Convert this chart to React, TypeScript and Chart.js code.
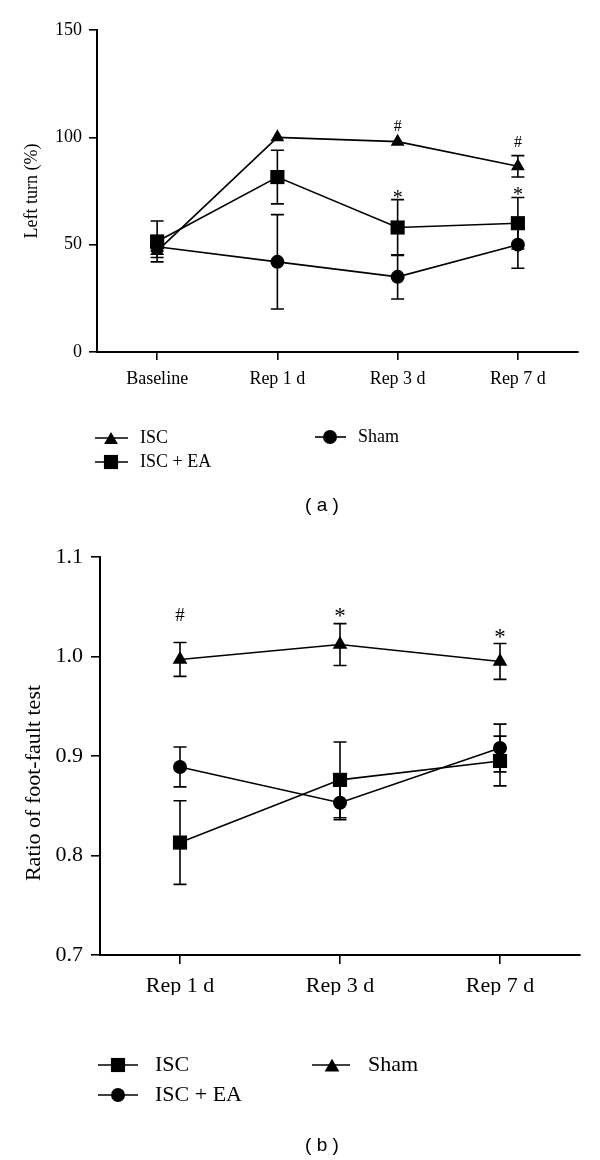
import React, { useEffect, useRef } from 'react';
import { Chart, registerables } from 'chart.js';

Chart.register(...registerables);

const SERIF = '"Liberation Serif", "Times New Roman", serif';
const SANS = '"Liberation Sans", Arial, sans-serif';

// ---------- Panel (a) data ----------
const catsA = ['Baseline', 'Rep 1 d', 'Rep 3 d', 'Rep 7 d'];
const iscA = [47, 100, 98, 86.5];
const iscErrA = [3, 0, 0, 5];
const iscEaA = [51.5, 81.5, 58, 60];
const iscEaErrA = [9.5, 12.5, 13, 12];
const shamA = [49, 42, 35, 50];
const shamErrA = [2, 22, 10.3, 11];
const yTicksA = [0, 50, 100, 150];
const marksA = [
  { index: 2, text: '#', value: 105.5 },
  { index: 3, text: '#', value: 98 },
  { index: 2, text: '*', value: 73.5 },
  { index: 3, text: '*', value: 75 },
];

// ---------- Panel (b) data ----------
const catsB = ['Rep 1 d', 'Rep 3 d', 'Rep 7 d'];
const iscB = [0.813, 0.876, 0.895];
const iscErrB = [0.042, 0.038, 0.025];
const iscEaB = [0.889, 0.853, 0.908];
const iscEaErrB = [0.02, 0.017, 0.024];
const shamB = [0.997, 1.012, 0.995];
const shamErrB = [0.017, 0.021, 0.018];
const yTicksB = [0.7, 0.8, 0.9, 1.0, 1.1];
const marksB = [
  { index: 0, text: '#', value: 1.042 },
  { index: 1, text: '*', value: 1.045 },
  { index: 2, text: '*', value: 1.024 },
];

function drawMarker(ctx: CanvasRenderingContext2D, style: string, x: number, y: number, r: number) {
  ctx.beginPath();
  if (style === 'circle') {
    ctx.arc(x, y, r, 0, Math.PI * 2);
  } else if (style === 'rect') {
    const s = r * Math.SQRT1_2;
    ctx.rect(x - s, y - s, 2 * s, 2 * s);
  } else {
    let a = 0;
    ctx.moveTo(x + Math.sin(a) * r, y - Math.cos(a) * r);
    a += (2 * Math.PI) / 3;
    ctx.lineTo(x + Math.sin(a) * r, y - Math.cos(a) * r);
    a += (2 * Math.PI) / 3;
    ctx.lineTo(x + Math.sin(a) * r, y - Math.cos(a) * r);
  }
  ctx.closePath();
  ctx.fill();
}

const errorBarPlugin = {
  id: 'errorBars',
  beforeDatasetsDraw(chart: any) {
    const ctx = chart.ctx as CanvasRenderingContext2D;
    const ys = chart.scales.y;
    ctx.save();
    ctx.strokeStyle = '#000';
    ctx.lineWidth = 1.6;
    chart.data.datasets.forEach((ds: any, di: number) => {
      const meta = chart.getDatasetMeta(di);
      meta.data.forEach((pt: any, i: number) => {
        const e = ds.errors ? ds.errors[i] : 0;
        if (!e) return;
        const v = ds.data[i];
        const yt = ys.getPixelForValue(v + e);
        const yb = ys.getPixelForValue(v - e);
        const cap = 6.5;
        ctx.beginPath();
        ctx.moveTo(pt.x, yt);
        ctx.lineTo(pt.x, yb);
        ctx.moveTo(pt.x - cap, yt);
        ctx.lineTo(pt.x + cap, yt);
        ctx.moveTo(pt.x - cap, yb);
        ctx.lineTo(pt.x + cap, yb);
        ctx.stroke();
      });
    });
    ctx.restore();
  },
};

type LegendItem = { style: string; r: number; y: number; x1: number; x2: number; mx: number; tx: number };

function makeDecor(id: string, cfg: {
  title: string; titleX: number; titleY: number; titleSize: number;
  marks: { index: number; text: string; value: number }[];
  hashSize: number; starSize: number;
  legend: LegendItem[]; legendSize: number;
  caption: string; capX: number; capY: number; capSize: number;
}) {
  return {
    id,
    afterDraw(chart: any) {
      const ctx = chart.ctx as CanvasRenderingContext2D;
      const xs = chart.scales.x;
      const ys = chart.scales.y;
      ctx.save();
      ctx.fillStyle = '#000';
      ctx.strokeStyle = '#000';
      // y-axis title
      ctx.save();
      ctx.translate(cfg.titleX, cfg.titleY);
      ctx.rotate(-Math.PI / 2);
      ctx.font = `${cfg.titleSize}px ${SERIF}`;
      ctx.textAlign = 'center';
      ctx.textBaseline = 'middle';
      ctx.fillText(cfg.title, 0, 0);
      ctx.restore();
      // significance marks
      cfg.marks.forEach((m) => {
        const x = xs.getPixelForValue(m.index);
        const y = ys.getPixelForValue(m.value);
        const size = m.text === '*' ? cfg.starSize : cfg.hashSize;
        ctx.font = `${size}px ${SERIF}`;
        ctx.textAlign = 'center';
        ctx.textBaseline = 'alphabetic';
        const off = m.text === '*' ? 0.5 : 0.34;
        ctx.fillText(m.text, x, y + off * size);
      });
      // legend
      cfg.legend.forEach((it, i) => {
        const ds = chart.data.datasets[i];
        ctx.lineWidth = 1.6;
        ctx.beginPath();
        ctx.moveTo(it.x1, it.y);
        ctx.lineTo(it.x2, it.y);
        ctx.stroke();
        const dy = it.style === 'triangle' ? it.r / 4 : 0;
        drawMarker(ctx, it.style, it.mx, it.y + dy, it.r);
        ctx.font = `${cfg.legendSize}px ${SERIF}`;
        ctx.textAlign = 'left';
        ctx.textBaseline = 'middle';
        ctx.fillText(ds.label, it.tx, it.y);
      });
      // caption
      ctx.font = `${cfg.capSize}px ${SANS}`;
      ctx.textAlign = 'center';
      ctx.textBaseline = 'middle';
      ctx.fillText(cfg.caption, cfg.capX, cfg.capY);
      ctx.restore();
    },
  };
}

function lineDs(label: string, data: number[], errors: number[], style: string, r: number) {
  return {
    label,
    data,
    errors,
    borderColor: '#000',
    backgroundColor: '#000',
    borderWidth: 1.6,
    tension: 0,
    pointStyle: style,
    pointRadius: r,
    pointHoverRadius: r,
    pointBackgroundColor: '#000',
    pointBorderColor: '#000',
    pointBorderWidth: 0,
    clip: false,
  } as any;
}

function axisCommon(size: number, tickLen: number, pad: number) {
  return {
    grid: { display: true, drawOnChartArea: false, drawTicks: true, tickLength: tickLen, offset: false, color: '#000', lineWidth: 1.6 },
    border: { display: true, color: '#000', width: 2 },
    ticks: { color: '#000', font: { family: SERIF, size }, padding: pad, autoSkip: false, maxRotation: 0 },
  };
}

function configA(): any {
  const ax = axisCommon(18, 8, 8);
  const ay = axisCommon(18, 8, 7);
  return {
    type: 'line',
    data: {
      labels: catsA,
      datasets: [
        lineDs('ISC', iscA, iscErrA, 'triangle', 8),
        lineDs('ISC + EA', iscEaA, iscEaErrA, 'rect', 10),
        lineDs('Sham', shamA, shamErrA, 'circle', 7),
      ],
    },
    options: {
      responsive: false,
      animation: false,
      events: [],
      layout: { padding: { left: 0, top: 30, right: 22, bottom: 138 } },
      plugins: { legend: { display: false }, tooltip: { enabled: false } },
      scales: {
        x: { type: 'category', offset: true, ...ax, afterFit: (s: any) => { s.height = 40; } },
        y: {
          type: 'linear', min: 0, max: 150, ...ay,
          afterBuildTicks: (s: any) => { s.ticks = yTicksA.map((v) => ({ value: v })); },
          afterFit: (s: any) => { s.width = 97; },
        },
      },
    },
    plugins: [
      errorBarPlugin,
      makeDecor('decorA', {
        title: 'Left turn (%)', titleX: 32, titleY: 191, titleSize: 18,
        marks: marksA, hashSize: 16, starSize: 20,
        legend: [
          { style: 'triangle', r: 8, y: 438, x1: 95, x2: 128, mx: 111, tx: 140 },
          { style: 'rect', r: 10, y: 462, x1: 95, x2: 128, mx: 111, tx: 140 },
          { style: 'circle', r: 7, y: 437, x1: 315, x2: 346, mx: 330, tx: 358 },
        ],
        legendSize: 18,
        caption: '( a )', capX: 322, capY: 506, capSize: 19,
      }),
    ],
  };
}

function configB(): any {
  const ax = axisCommon(22, 9, 9);
  const ay = axisCommon(22, 9, 8);
  return {
    type: 'line',
    data: {
      labels: catsB,
      datasets: [
        lineDs('ISC', iscB, iscErrB, 'rect', 10),
        lineDs('ISC + EA', iscEaB, iscEaErrB, 'circle', 7),
        lineDs('Sham', shamB, shamErrB, 'triangle', 8.5),
      ],
    },
    options: {
      responsive: false,
      animation: false,
      events: [],
      layout: { padding: { left: 0, top: 27, right: 20, bottom: 165 } },
      plugins: { legend: { display: false }, tooltip: { enabled: false } },
      scales: {
        x: { type: 'category', offset: true, ...ax, afterFit: (s: any) => { s.height = 40; } },
        y: {
          type: 'linear', min: 0.7, max: 1.1, ...ay,
          ticks: { ...ay.ticks, callback: (v: any) => Number(v).toFixed(1) },
          afterBuildTicks: (s: any) => { s.ticks = yTicksB.map((v) => ({ value: v })); },
          afterFit: (s: any) => { s.width = 100; },
        },
      },
    },
    plugins: [
      errorBarPlugin,
      makeDecor('decorB', {
        title: 'Ratio of foot-fault test', titleX: 34, titleY: 253, titleSize: 22,
        marks: marksB, hashSize: 19, starSize: 23,
        legend: [
          { style: 'rect', r: 10, y: 535, x1: 98, x2: 138, mx: 118, tx: 155 },
          { style: 'circle', r: 7, y: 565, x1: 98, x2: 138, mx: 118, tx: 155 },
          { style: 'triangle', r: 8.5, y: 535, x1: 312, x2: 350, mx: 332, tx: 368 },
        ],
        legendSize: 22,
        caption: '( b )', capX: 322, capY: 616, capSize: 19,
      }),
    ],
  };
}

export default function App() {
  const refA = useRef<HTMLCanvasElement | null>(null);
  const refB = useRef<HTMLCanvasElement | null>(null);

  useEffect(() => {
    Chart.defaults.font.family = SERIF;
    Chart.defaults.color = '#000';
    const a = new Chart(refA.current as HTMLCanvasElement, configA());
    const b = new Chart(refB.current as HTMLCanvasElement, configB());
    return () => {
      a.destroy();
      b.destroy();
    };
  }, []);

  return (
    <div style={{ position: 'absolute', left: 0, top: 0, width: 600, height: 1160, background: '#fff' }}>
      <canvas ref={refA} width={600} height={530} style={{ position: 'absolute', left: 0, top: 0, width: 600, height: 530 }} />
      <canvas ref={refB} width={600} height={630} style={{ position: 'absolute', left: 0, top: 530, width: 600, height: 630 }} />
    </div>
  );
}
